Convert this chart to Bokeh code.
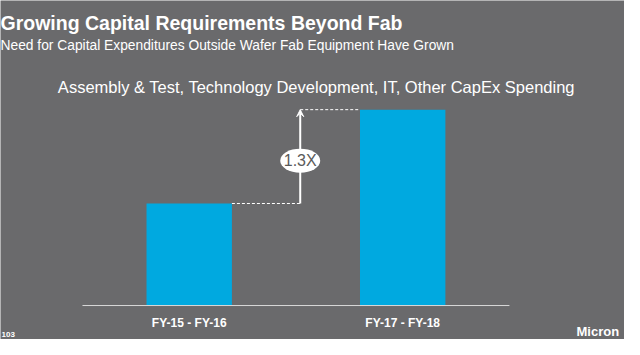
from bokeh.plotting import figure
from bokeh.models import Label, Arrow, VeeHead, Range1d
from bokeh.core.properties import value
from bokeh.embed import file_html
from bokeh.resources import INLINE

# Data
periods = ["FY-15 - FY-16", "FY-17 - FY-18"]
spending = [1.0, 1.92]          # relative bar heights as drawn
multiple_label = "1.3X"

title = "Growing Capital Requirements Beyond Fab"
subtitle = "Need for Capital Expenditures Outside Wafer Fab Equipment Have Grown"
chart_title = "Assembly & Test, Technology Development, IT, Other CapEx Spending"
page_no = "103"
brand = "Micron"

BG = "#6a6a6c"
BAR = "#00a9e0"
FONT = "Liberation Sans"

W, H = 624, 339
# category slots: slot i spans [i, i+1]
xs = [i + 0.5 for i in range(len(periods))]
n = len(periods)

p = figure(width=W, height=H, x_range=Range1d(-0.384, 2.539), y_range=Range1d(-0.333, 2.99),
           output_backend="svg", toolbar_location=None,
           x_axis_location=None, y_axis_location=None, min_border=0)
p.background_fill_color = BG
p.border_fill_color = BG
p.outline_line_color = None
p.grid.grid_line_color = None

p.vbar(x=xs, top=spending, width=0.4, color=BAR, line_color=None)

# baseline (category axis line) and category labels
p.segment(x0=[0], y0=[0], x1=[n], y1=[0], line_color="#d8d8d8", line_width=1)
p.text(x=xs, y=[-0.167] * n, text=periods, text_align="center", text_baseline="alphabetic",
       text_color="white", text_font=value(FONT), text_font_style="bold",
       text_font_size="12px")

# connector annotation
ax_x = 1.02
left_edge = xs[0] + 0.2
right_edge = xs[1] - 0.2
p.line(x=[left_edge, ax_x], y=[spending[0], spending[0]], line_color="white",
       line_dash="3 2", line_width=1)
p.line(x=[ax_x, right_edge], y=[spending[1], spending[1]], line_color="white",
       line_dash="3 2", line_width=1)
p.add_layout(Arrow(end=VeeHead(size=7, fill_color="white", line_color="white"),
                   x_start=ax_x, y_start=spending[0], x_end=ax_x, y_end=spending[1],
                   line_color="white", line_width=2))
mid_y = (spending[0] + spending[1]) / 2 - 0.04
p.ellipse(x=[ax_x], y=[mid_y], width=40, height=24, width_units="screen",
          height_units="screen", fill_color="white", line_color=None)
p.add_layout(Label(x=ax_x, y=mid_y, text=multiple_label, text_align="center",
                   text_baseline="middle", text_font=FONT, text_font_size="16px",
                   text_color="#5a5a5a"))

# texts (screen units measured from bottom-left of the frame)
def lbl(text, x, y, size, bold=False, align="left", baseline="alphabetic"):
    p.add_layout(Label(x=x, y=y, x_units="screen", y_units="screen", text=text,
                       text_font=FONT, text_font_size=size, text_color="white",
                       text_font_style="bold" if bold else "normal",
                       text_align=align, text_baseline=baseline))

lbl(title, 0, H - 22, "19.5px", bold=True)
lbl(subtitle, 0, H - 44.7, "13.8px")
lbl(chart_title, 316, H - 86, "16.5px", align="center")
lbl(page_no, 1, 5, "8px", bold=True, baseline="middle")
lbl(brand, 576, 8, "13px", bold=True, baseline="middle")

open("out.html", "w").write(file_html(p, INLINE))
